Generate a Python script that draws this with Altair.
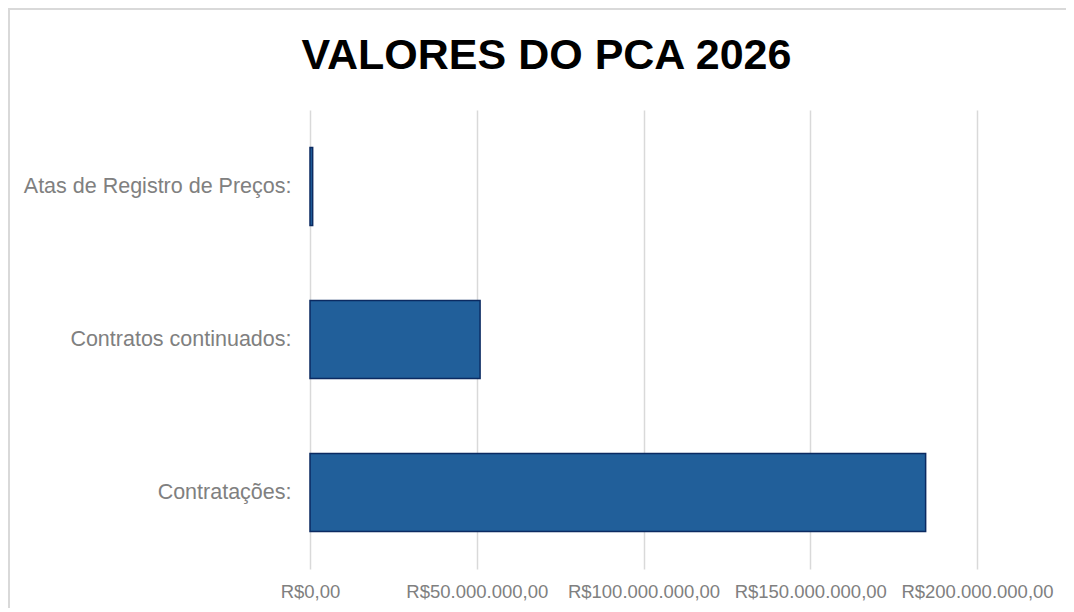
import altair as alt
import pandas as pd

categories = ["Atas de Registro de Preços:", "Contratos continuados:", "Contratações:"]
values = [800000, 51000000, 184600000]
x_ticks = [0, 50000000, 100000000, 150000000, 200000000]

df = pd.DataFrame({"categoria": categories, "valor": values})
frame_df = pd.DataFrame({"k": [0]})

label_expr = (
    "'R$' + replace(replace(replace(format(datum.value, ',.2f'), regexp(',', 'g'), '_'),"
    " regexp('\\\\.', 'g'), ','), regexp('_', 'g'), '.')"
)

bars = alt.Chart(df).mark_bar(
    color="#215f9a", stroke="#0b2a61", strokeWidth=1.5
).encode(
    y=alt.Y(
        "categoria:N",
        sort=categories,
        title=None,
        scale=alt.Scale(paddingInner=0.49, paddingOuter=0.245),
        axis=alt.Axis(
            domain=False, ticks=False, grid=False, labelPadding=19,
            labelFontSize=21.5, labelColor="#808080", labelFont="Liberation Sans",
            labelLimit=400,
        ),
    ),
    x=alt.X(
        "valor:Q",
        title=None,
        scale=alt.Scale(domain=[0, 200000000], nice=False),
        axis=alt.Axis(
            values=x_ticks, domain=False, ticks=False, grid=True,
            gridColor="#d9d9d9", gridWidth=1.5, labelPadding=13,
            labelFontSize=18.5, labelColor="#808080", labelFont="Liberation Sans",
            labelExpr=label_expr, labelFlush=False, labelOverlap=False,
        ),
    ),
)

frame = alt.Chart(frame_df).mark_rect(
    fill=None, stroke="#d9d9d9", strokeWidth=2
).encode(
    x=alt.value(-301), x2=alt.value(900), y=alt.value(-101), y2=alt.value(700)
)

chart = alt.layer(frame, bars).properties(
    width=667,
    height=459,
    autosize=alt.AutoSizeParams(type="none"),
    padding={"left": 302, "top": 102, "right": 89, "bottom": 39},
    title=alt.TitleParams(
        "VALORES DO PCA 2026",
        font="Liberation Sans", fontSize=43, fontWeight="bold", color="#000000",
        anchor="middle", frame="group", dx=-97, dy=146, offset=42, baseline="alphabetic",
    ),
).configure_view(stroke=None)

chart.save("out.html", embed_options={"renderer": "svg", "actions": False})
